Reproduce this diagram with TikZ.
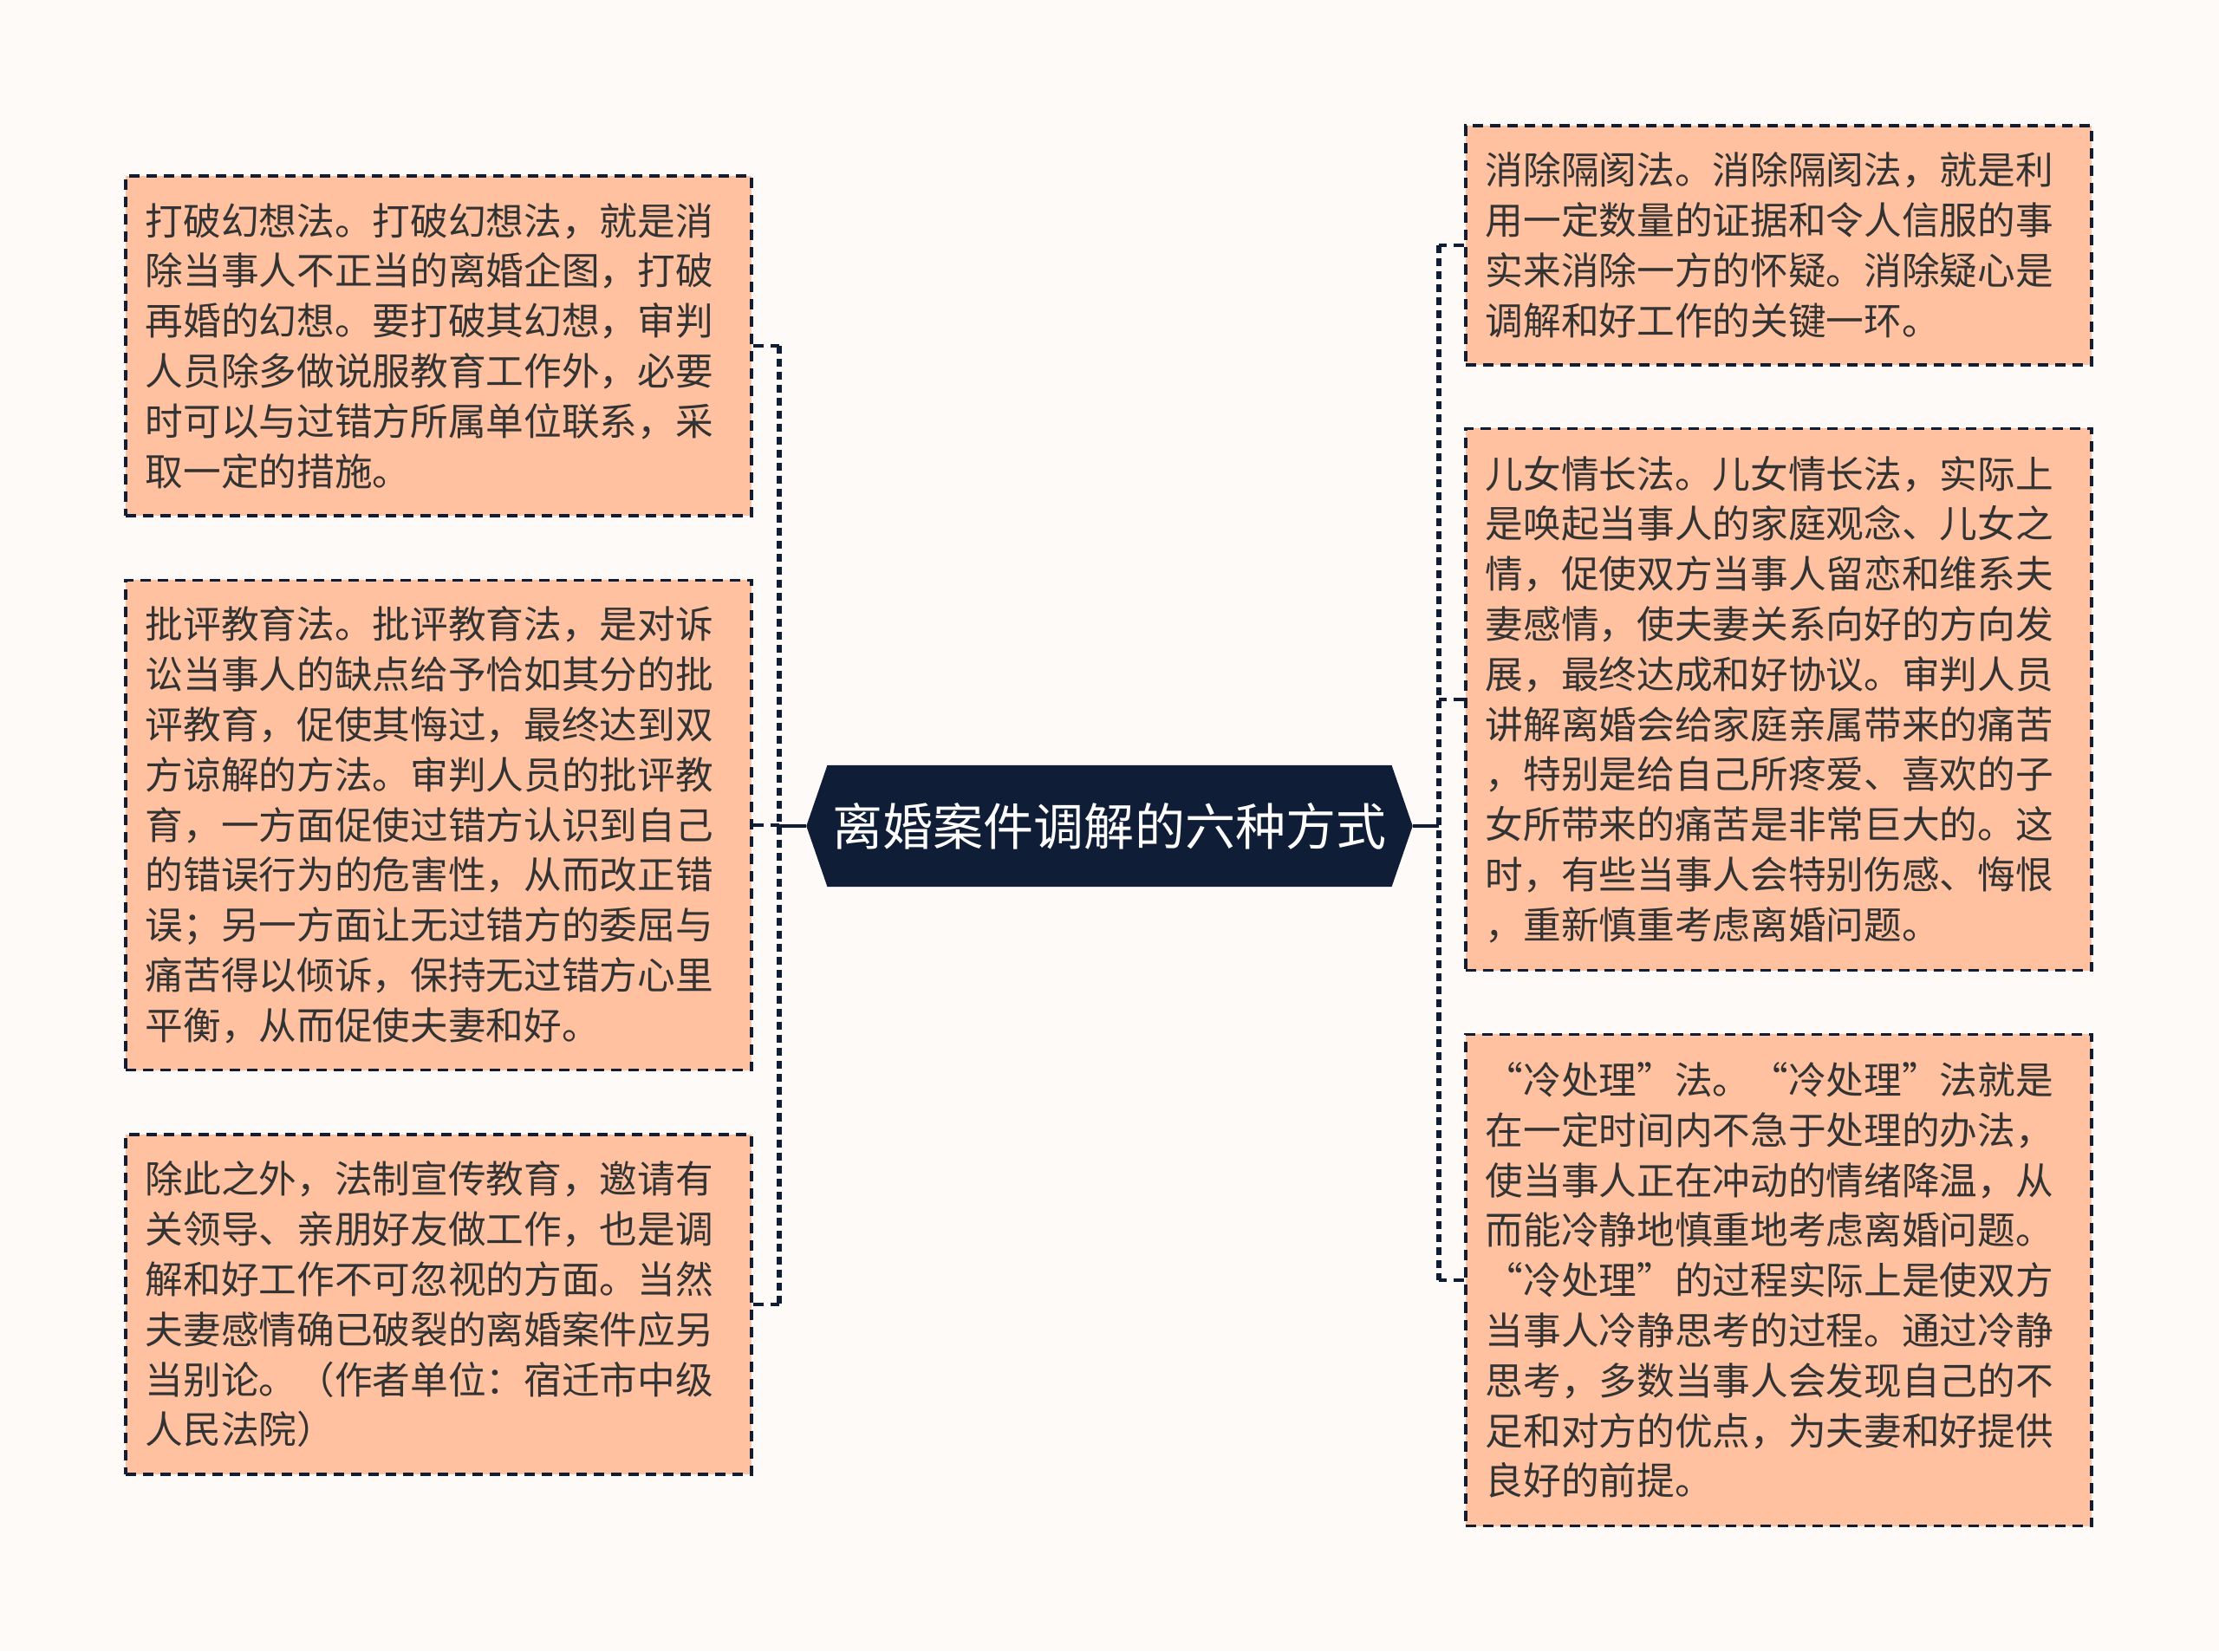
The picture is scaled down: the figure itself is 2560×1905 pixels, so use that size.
\documentclass[tikz,border=0pt]{standalone}
\usepackage{fontspec}
\newfontfamily\cjk{Noto Sans CJK SC}
\usetikzlibrary{shapes.symbols}

\definecolor{navy}{HTML}{0F1E36}
\definecolor{peach}{HTML}{FFC19F}
\definecolor{paper}{HTML}{FEFAF8}
\definecolor{ink}{HTML}{333333}

\begin{document}
\begin{tikzpicture}[x=0.01cm, y=-0.01cm,
    topic/.style={signal, signal to=west and east, signal pointer angle=142,
        fill=navy, text=white, minimum width=6.99cm, minimum height=1.4cm,
        inner sep=0pt, font=\cjk\fontsize{16.5pt}{20pt}\selectfont},
    card/.style={draw=navy, line width=0.035cm, dash pattern=on 0.12cm off 0.08cm,
        fill=peach, text=ink, text width=6.76cm, inner xsep=0.23cm, inner ysep=0pt,
        align=left, font=\cjk\fontsize{12.42pt}{16.44pt}\selectfont},
    bracket/.style={draw=navy, line width=0.055cm, dash pattern=on 0.09cm off 0.06cm},
    branch/.style={draw=navy, line width=0.035cm, dash pattern=on 0.12cm off 0.08cm},
    stem/.style={draw=navy, line width=0.035cm}]

    % Page
    \fill[paper] (0,0) rectangle (2560,1905);
    \useasboundingbox (0,0) rectangle (2560,1905);

    % Central topic
    \node[topic] (hub) at (1280,953) {离婚案件调解的六种方式};

    % Left cards
    \node[card, minimum height=3.92cm] (l1) at (506,399) {打破幻想法。打破幻想法，就是消\\除当事人不正当的离婚企图，打破\\再婚的幻想。要打破其幻想，审判\\人员除多做说服教育工作外，必要\\时可以与过错方所属单位联系，采\\取一定的措施。};
    \node[card, minimum height=5.65cm] (l2) at (506,952) {批评教育法。批评教育法，是对诉\\讼当事人的缺点给予恰如其分的批\\评教育，促使其悔过，最终达到双\\方谅解的方法。审判人员的批评教\\育，一方面促使过错方认识到自己\\的错误行为的危害性，从而改正错\\误；另一方面让无过错方的委屈与\\痛苦得以倾诉，保持无过错方心里\\平衡，从而促使夫妻和好。};
    \node[card, minimum height=3.92cm] (l3) at (506,1505) {除此之外，法制宣传教育，邀请有\\关领导、亲朋好友做工作，也是调\\解和好工作不可忽视的方面。当然\\夫妻感情确已破裂的离婚案件应另\\当别论。（作者单位：宿迁市中级\\人民法院）};

    % Right cards
    \node[card, minimum height=2.76cm] (r1) at (2052,283) {消除隔阂法。消除隔阂法，就是利\\用一定数量的证据和令人信服的事\\实来消除一方的怀疑。消除疑心是\\调解和好工作的关键一环。};
    \node[card, minimum height=6.25cm] (r2) at (2052,807) {儿女情长法。儿女情长法，实际上\\是唤起当事人的家庭观念、儿女之\\情，促使双方当事人留恋和维系夫\\妻感情，使夫妻关系向好的方向发\\展，最终达成和好协议。审判人员\\讲解离婚会给家庭亲属带来的痛苦\\，特别是给自己所疼爱、喜欢的子\\女所带来的痛苦是非常巨大的。这\\时，有些当事人会特别伤感、悔恨\\，重新慎重考虑离婚问题。};
    \node[card, minimum height=5.67cm] (r3) at (2052,1477) {“冷处理”法。“冷处理”法就是\\在一定时间内不急于处理的办法，\\使当事人正在冲动的情绪降温，从\\而能冷静地慎重地考虑离婚问题。\\“冷处理”的过程实际上是使双方\\当事人冷静思考的过程。通过冷静\\思考，多数当事人会发现自己的不\\足和对方的优点，为夫妻和好提供\\良好的前提。};

    % Left bracket
    \coordinate (lj) at (899,953);
    \draw[stem] (hub.west) -- (lj);
    \draw[bracket] (lj |- l1.east) -- (lj |- l3.east);
    \foreach \c in {l1,l2,l3}
        \draw[branch] (\c.east) -- (lj |- \c.east);

    % Right bracket
    \coordinate (rj) at (1660,953);
    \draw[stem] (hub.east) -- (rj);
    \draw[bracket] (rj |- r1.west) -- (rj |- r3.west);
    \foreach \c in {r1,r2,r3}
        \draw[branch] (\c.west) -- (rj |- \c.west);

\end{tikzpicture}
\end{document}
